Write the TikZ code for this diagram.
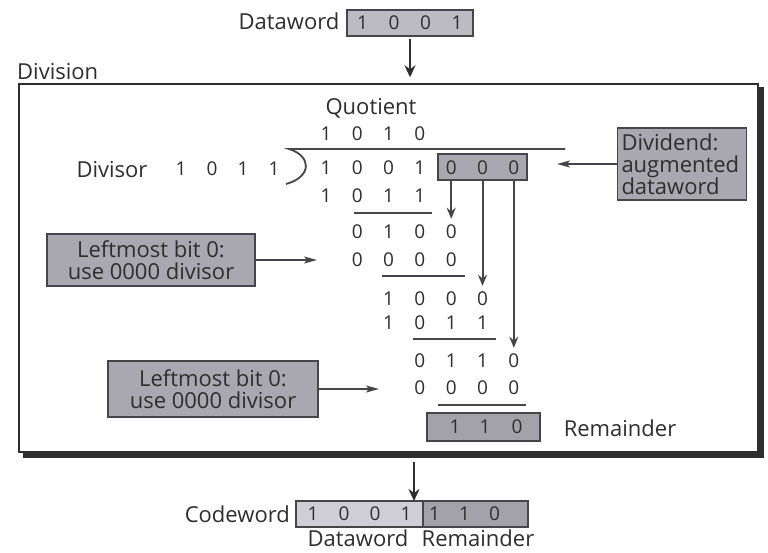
\documentclass[tikz,border=0pt]{standalone}
\usepackage{fontspec}
\setmainfont{Open Sans}
\usetikzlibrary{arrows.meta}
\definecolor{ink}{HTML}{2E2E2E}
\definecolor{edge}{HTML}{45454A}
\definecolor{notefill}{HTML}{A9A8B0}
\definecolor{wordfill}{HTML}{BCBBC4}
\definecolor{datafill}{HTML}{CFCED6}
\definecolor{remfill}{HTML}{A3A2A9}
\begin{document}
\begin{tikzpicture}[x=1pt,y=-1pt,
  lbl/.style={font=\fontsize{22}{23}\selectfont, text=ink, inner sep=0pt},
  dig/.style={font=\fontsize{19}{20}\selectfont, text=ink, inner sep=0pt},
  tone/.style={draw=edge, line width=1.4pt, fill=#1, inner sep=0pt},
  note/.style={tone=notefill, font=\fontsize{22}{22}\selectfont, text=ink, align=center},
  rule/.style={draw=edge, line width=1.4pt},
  pointer/.style={draw=edge, line width=1.4pt, -{Stealth[length=13pt,width=7pt,inset=3pt]}},
  drop/.style={draw=edge, line width=2pt, -{Stealth[length=11pt,width=9pt]}},
  flow/.style={draw=ink, line width=2.4pt, -{Stealth[length=12pt,width=11pt]}}]

\useasboundingbox (0,0) rectangle (768,552);
\fill[white] (0,0) rectangle (768,552);

% input dataword
\node[lbl] (dwlabel) at (289,21) {Dataword};
\node[tone=wordfill, minimum width=126pt, minimum height=26pt] (dw) at (410,23) {};
\foreach \d [count=\i from 0] in {1,0,0,1}
  \node[dig] (dw-\i) at ({362.5+31.5*\i},23) {\d};

% division frame with its drop shadow
\node[draw=ink, line width=1.4pt, minimum width=739pt, minimum height=368pt, inner sep=0pt] (frame) at (388.5,268) {};
\fill[ink] ([yshift=-4pt]frame.north east) rectangle ([xshift=5pt,yshift=-5pt]frame.south east);
\fill[ink] ([xshift=5pt]frame.south west) rectangle ([xshift=5pt,yshift=-5pt]frame.south east);
\node[lbl, anchor=south west] (divlabel) at (17,80) {Division};

\draw[flow, shorten <=2pt, shorten >=6pt] (dw.south) -- (dw.south |- frame.north);

% quotient
\node[lbl] (qlabel) at (371,108) {Quotient};
\foreach \d [count=\i from 0] in {1,0,1,0}
  \node[dig] (q-\i) at ({326+31.3*\i},134) {\d};

% division bar and bracket
\coordinate (barL) at (289,149);
\coordinate (barR) at (565,149);
\draw[rule, line width=1.8pt] (barR) -- (barL) .. controls (312,156) and (312,177) .. (286,184);

% divisor
\node[lbl] (dvlabel) at (112,170) {Divisor};
\foreach \d/\x [count=\i] in {1/181,0/212,1/243,1/274}
  \node[dig] (dv-\i) at (\x,169) {\d};

% dividend with augmented zeros
\node[tone=notefill, minimum width=89pt, minimum height=26pt] (aug) at (482.5,167) {};
\foreach \d [count=\i from 0] in {1,0,0,1,0,0,0}
  \node[dig] (r1-\i) at ({326+31.3*\i},168) {\d};

% long division steps
\foreach \d [count=\i from 0] in {1,0,1,1}
  \node[dig] (r2-\i) at ({326+31.3*\i},196) {\d};
\draw[rule] (354,213) -- (432,213);
\foreach \d [count=\i from 1] in {0,1,0,0}
  \node[dig] (r3-\i) at ({326+31.3*\i},232) {\d};
\foreach \d [count=\i from 1] in {0,0,0,0}
  \node[dig] (r4-\i) at ({326+31.3*\i},260) {\d};
\draw[rule] (382,276) -- (465,276);
\foreach \d [count=\i from 2] in {1,0,0,0}
  \node[dig] (r5-\i) at ({326+31.3*\i},299) {\d};
\foreach \d [count=\i from 2] in {1,0,1,1}
  \node[dig] (r6-\i) at ({326+31.3*\i},323) {\d};
\draw[rule] (413,339) -- (496,339);
\foreach \d [count=\i from 3] in {0,1,1,0}
  \node[dig] (r7-\i) at ({326+31.3*\i},361) {\d};
\foreach \d [count=\i from 3] in {0,0,0,0}
  \node[dig] (r8-\i) at ({326+31.3*\i},388) {\d};
\draw[rule] (438,405) -- (526,405);

% bits brought down
\draw[drop] (r1-4 |- aug.south) -- ([yshift=6pt]r3-4.north);
\draw[drop] (r1-5 |- aug.south) -- ([yshift=6pt]r5-5.north);
\draw[drop] (r1-6 |- aug.south) -- ([yshift=6pt]r7-6.north);

% remainder
\node[tone=remfill, minimum width=113pt, minimum height=28pt] (rem) at (483.5,427) {};
\foreach \d/\x [count=\i] in {1/455,1/485,0/517}
  \node[dig] (rem-\i) at (\x,427) {\d};
\node[lbl] (remlabel) at (620,428) {Remainder};

% explanatory notes
\node[note, align=left, text width=121pt, inner xsep=4pt, minimum height=72pt] (augnote) at (682,164) {Dividend:\\augmented\\dataword};
\coordinate (augtip) at (557,164);
\draw[pointer] (augnote.west) -- (augtip);

\node[note, minimum width=208pt, minimum height=52pt] (noteA) at (151,260) {Leftmost bit 0:\\use 0000 divisor};
\coordinate (tipA) at (317,260);
\draw[pointer] (noteA.east) -- (tipA);

\node[note, minimum width=210pt, minimum height=56pt] (noteB) at (213,389) {Leftmost bit 0:\\use 0000 divisor};
\coordinate (tipB) at (379,389);
\draw[pointer] (noteB.east) -- (tipB);

% resulting codeword
\coordinate (cwtop) at (414,501);
\draw[flow, shorten <=9pt] (cwtop |- frame.south) -- (cwtop);
\node[tone=datafill, minimum width=127pt, minimum height=26pt] (cwdata) at (359.5,514) {};
\node[tone=remfill, minimum width=105pt, minimum height=26pt] (cwrem) at (475.5,514) {};
\foreach \d/\x [count=\i] in {1/313,0/344,0/375,1/406}
  \node[dig] (cwd-\i) at (\x,514) {\d};
\foreach \d/\x [count=\i] in {1/434.5,1/464.5,0/494.5}
  \node[dig] (cwr-\i) at (\x,514) {\d};
\node[lbl, anchor=east] (cwlabel) at (290,514) {Codeword};
\node[lbl] (cwdl) at (358,538) {Dataword};
\node[lbl] (cwrl) at (478,538) {Remainder};
\end{tikzpicture}
\end{document}
